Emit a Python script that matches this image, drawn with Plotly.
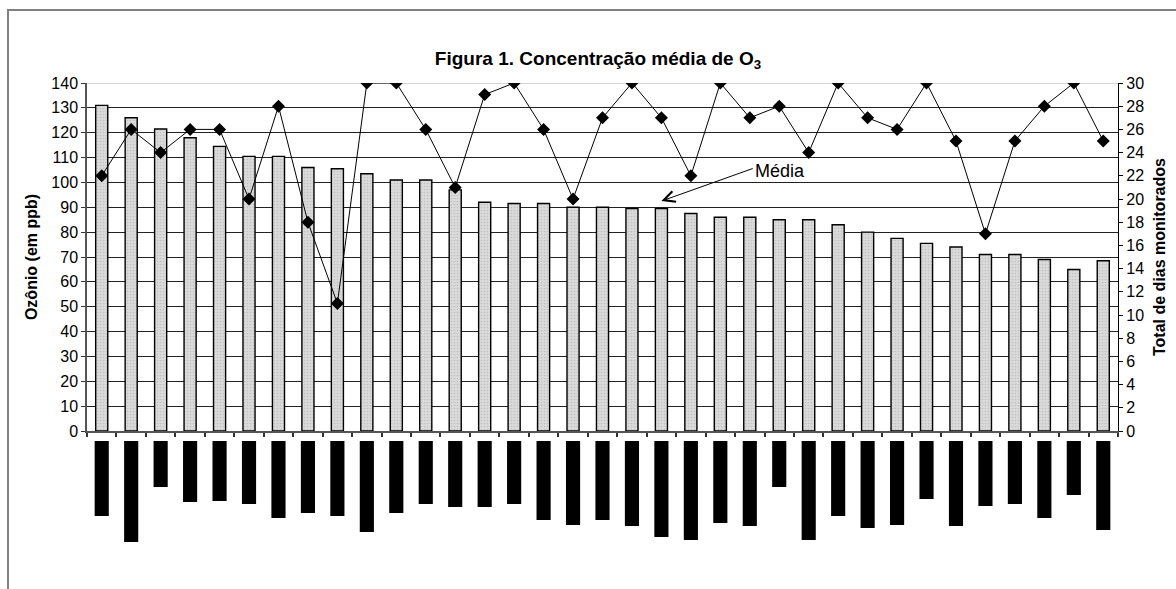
import plotly.graph_objects as go

# ---- data ----
stations = [f"Estação {i+1}" for i in range(35)]  # labels redacted in the original
ozone_ppb = [131, 126, 121.5, 118, 114.5, 110.5, 110.5, 106, 105.5, 103.5, 101, 101, 97,
             92, 91.5, 91.5, 90, 90, 89.5, 89.5, 87.5, 86, 86, 85, 85, 83, 80, 77.5,
             75.5, 74, 71, 71, 69, 65, 68.5]
days_monitored = [22, 26, 24, 26, 26, 20, 28, 18, 11, 30, 30, 26, 21, 29, 30, 26, 20, 27,
                  30, 27, 22, 30, 27, 28, 24, 30, 27, 26, 30, 25, 17, 25, 28, 30, 25]
# lengths of the redacted (blacked-out) category labels
label_block_len = [75, 101, 46, 61, 60, 63, 77, 72, 75, 91, 72, 63, 66, 66, 63, 79, 84,
                   79, 85, 96, 99, 82, 85, 46, 99, 75, 87, 84, 58, 85, 65, 63, 77, 54, 89]
left_ticks = list(range(0, 141, 10))
right_ticks = list(range(0, 31, 2))

idx = list(range(len(stations)))
FONT = "Liberation Sans, Arial, sans-serif"

fig = go.Figure()

fig.add_trace(go.Bar(
    x=idx, y=ozone_ppb, yaxis="y", width=0.41, name="Ozônio",
    hovertext=stations,
    marker=dict(color="#dadada",
                pattern=dict(shape=".", fgcolor="#a8a8a8", bgcolor="#dadada", size=3, solidity=0.25),
                line=dict(color="black", width=1.4)),
))

fig.add_trace(go.Scatter(
    x=idx, y=days_monitored, yaxis="y2", mode="lines+markers", name="Dias",
    line=dict(color="black", width=1),
    marker=dict(symbol="diamond", size=10, color="black"),
))

fig.add_trace(go.Bar(
    x=idx, y=label_block_len, yaxis="y3", width=0.48, name="rótulos",
    marker=dict(color="black", line=dict(width=0)),
    hovertext=stations,
))

W, H = 1176, 589
ml, mr, mt, mb = 87, 58, 83, 0
ph = H - mt - mb
pw = W - ml - mr
axis_y_px = 431
main_bottom = (H - axis_y_px) / ph
labels_top = (H - 441) / ph

fig.update_layout(
    width=W, height=H,
    margin=dict(l=ml, r=mr, t=mt, b=mb, pad=0, autoexpand=False),
    paper_bgcolor="white", plot_bgcolor="white",
    showlegend=False, barmode="overlay",
    font=dict(family=FONT, size=16, color="black"),
    title=dict(text="<b>Figura 1. Concentração média de O<sub>3</sub></b>",
               font=dict(family=FONT, size=19, color="black"),
               x=(598 - ml) / pw, xref="paper", xanchor="center",
               y=1 - 58 / H, yref="container", yanchor="middle"),
    xaxis=dict(range=[-0.5, len(idx) - 0.5], showticklabels=False,
               tickvals=[i - 0.5 for i in range(len(idx) + 1)],
               ticks="outside", ticklen=4, tickcolor="#333", tickwidth=1.5,
               showline=True, linecolor="#555", linewidth=2,
               showgrid=False, zeroline=False, anchor="y", automargin=False),
    yaxis=dict(domain=[main_bottom, 1], range=[0, 140], tickvals=left_ticks,
               ticks="outside", ticklen=4, tickcolor="#333",
               showline=True, linecolor="#555", linewidth=1.5,
               showgrid=True, gridcolor="#222", gridwidth=1.2, zeroline=False,
               tickfont=dict(family=FONT, size=16), automargin=False,
               title=dict(text="<b>Ozônio (em ppb)</b>", font=dict(family=FONT, size=16), standoff=10)),
    yaxis2=dict(overlaying="y", side="right", range=[0, 30], tickvals=right_ticks,
                ticks="outside", ticklen=4, tickcolor="black",
                showline=True, linecolor="black", linewidth=1.2,
                showgrid=False, zeroline=False, anchor="x", automargin=False,
                tickfont=dict(family=FONT, size=16),
                title=dict(text="<b>Total de dias monitorados</b>", font=dict(family=FONT, size=16), standoff=10)),
    yaxis3=dict(domain=[0, labels_top], range=[148, 0], visible=False, anchor="x",
                showgrid=False, zeroline=False),
)

# light top gridline (as in the original)
fig.add_shape(type="line", xref="paper", yref="y", x0=0, x1=1, y0=140, y1=140,
              line=dict(color="#c8c8c8", width=1.5), layer="between")

# outer chart frame (cropped at right/bottom in the original)
fig.add_shape(type="rect", xref="paper", yref="paper",
              x0=(8 - ml) / pw, x1=(W + 20 - ml) / pw,
              y0=-20 / ph, y1=(H - 10) / ph,
              line=dict(color="#808080", width=2), fillcolor="rgba(0,0,0,0)", layer="above")

# "Média" annotation with arrow
fig.add_annotation(x=19.0, y=92.5, ax=22.15, ay=105.8, xref="x", yref="y", axref="x", ayref="y",
                   text="", showarrow=True, arrowhead=5, arrowsize=2.2, arrowwidth=1,
                   arrowcolor="black")
fig.add_annotation(x=22.1, y=104.6, xref="x", yref="y", text="Média", showarrow=False,
                   xanchor="left", yanchor="middle", font=dict(family=FONT, size=18, color="black"))

fig.write_html("out.html", config={"displayModeBar": False},
               post_script="document.body.style.margin='0';")
